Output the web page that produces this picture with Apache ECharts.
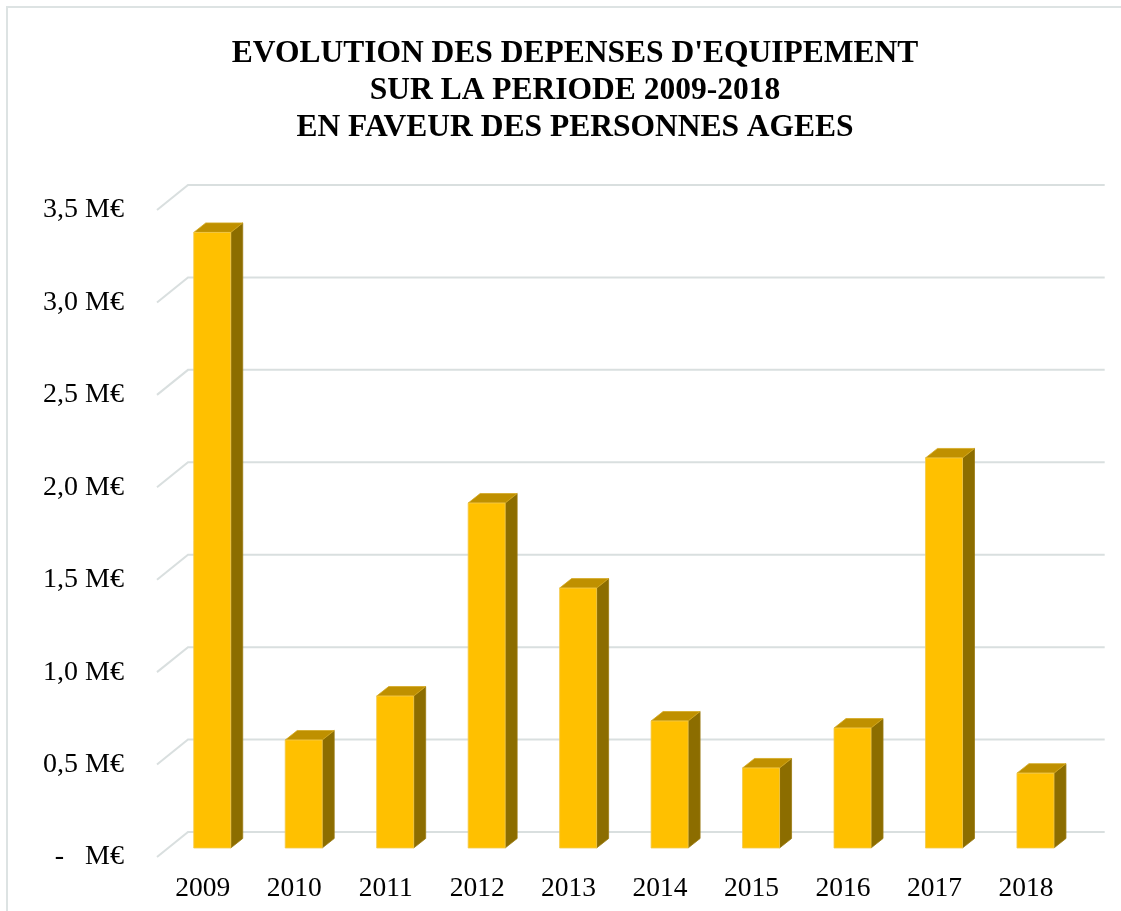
<!DOCTYPE html>
<html>
<head>
<meta charset="utf-8">
<script src="https://cdn.jsdelivr.net/npm/echarts@6/dist/echarts.min.js"></script>
<style>
html,body{margin:0;padding:0;background:#fff;}
#chart{width:1121px;height:911px;}
</style>
</head>
<body>
<div id="chart"></div>
<script>
const categories = ['2009','2010','2011','2012','2013','2014','2015','2016','2017','2018'];
const values = [3.33, 0.584, 0.822, 1.866, 1.406, 0.687, 0.433, 0.649, 2.11, 0.405];
const yTicks = [0, 0.5, 1.0, 1.5, 2.0, 2.5, 3.0, 3.5];
const titleText = "EVOLUTION DES DEPENSES D'EQUIPEMENT\nSUR LA PERIODE 2009-2018\nEN FAVEUR DES PERSONNES AGEES";

const chart = echarts.init(document.getElementById('chart'), null, {renderer: 'canvas'});

const FRONT = '#FFC000', TOP = '#BF9000', SIDE = '#8C6D00', EDGE = '#F2C94C';
const DX = 12, DY = 9.5, FACE_W = 37, SHIFT_X = 9.5, SHIFT_Y = 9;

function fmtY(v) {
  if (v === 0) return '-   M\u20AC';
  return v.toFixed(1).replace('.', ',') + ' M\u20AC';
}

const option = {
  backgroundColor: '#fff',
  animation: false,
  title: {
    text: titleText,
    left: 570,
    textAlign: 'center',
    top: 30,
    textStyle: {
      fontFamily: 'Liberation Serif',
      fontWeight: 'bold',
      fontSize: 31.5,
      lineHeight: 37,
      color: '#000'
    }
  },
  graphic: [{
    type: 'rect',
    shape: {x: 7, y: 7, width: 1300, height: 1100},
    style: {fill: 'none', stroke: '#DDE3E3', lineWidth: 2},
    silent: true
  }],
  grid: {left: 157, right: 49.3, top: 210, bottom: 54, containLabel: false},
  xAxis: {
    type: 'category',
    data: categories,
    axisLine: {show: false},
    axisTick: {show: false},
    splitLine: {show: false},
    axisLabel: {
      margin: 18,
      fontFamily: 'Liberation Serif',
      fontSize: 27.5,
      color: '#000'
    }
  },
  yAxis: {
    type: 'value',
    min: 0,
    max: 3.5,
    interval: 0.5,
    axisLine: {show: false},
    axisTick: {show: false},
    splitLine: {show: false},
    axisLabel: {
      margin: 33,
      fontFamily: 'Liberation Serif',
      fontSize: 28,
      color: '#000',
      formatter: fmtY
    }
  },
  series: [
    {
      type: 'custom',
      name: 'grid',
      silent: true,
      z: 1,
      data: yTicks.map(v => [0, v]),
      renderItem: function (params, api) {
        const cs = params.coordSys;
        const y = api.coord([0, api.value(1)])[1];
        return {
          type: 'polyline',
          shape: {points: [[cs.x, y], [cs.x + 31, y - 25], [cs.x + cs.width + 33, y - 25]]},
          style: {stroke: '#D9DFDF', lineWidth: 2, fill: null}
        };
      }
    },
    {
      type: 'custom',
      name: 'D\u00e9penses',
      z: 5,
      data: values.map((v, i) => [i, v]),
      renderItem: function (params, api) {
        const i = api.value(0), v = api.value(1);
        const p0 = api.coord([i, 0]);
        const p1 = api.coord([i, v]);
        const cx = p0[0] + SHIFT_X;
        const yb = p0[1] - SHIFT_Y;
        const yt = p1[1] - SHIFT_Y;
        const xl = cx - FACE_W / 2, xr = cx + FACE_W / 2;
        return {
          type: 'group',
          children: [
            {
              type: 'polygon',
              shape: {points: [[xr, yt], [xr + DX, yt - DY], [xr + DX, yb - DY], [xr, yb]]},
              style: {fill: SIDE, stroke: '#9A7A10', lineWidth: 0.8}
            },
            {
              type: 'polygon',
              shape: {points: [[xl, yt], [xr, yt], [xr + DX, yt - DY], [xl + DX, yt - DY]]},
              style: {fill: TOP, stroke: '#D4A820', lineWidth: 0.8}
            },
            {
              type: 'rect',
              shape: {x: xl, y: yt, width: FACE_W, height: yb - yt},
              style: {fill: FRONT, stroke: EDGE, lineWidth: 0.8}
            }
          ]
        };
      }
    }
  ]
};

chart.setOption(option);
</script>
</body>
</html>
